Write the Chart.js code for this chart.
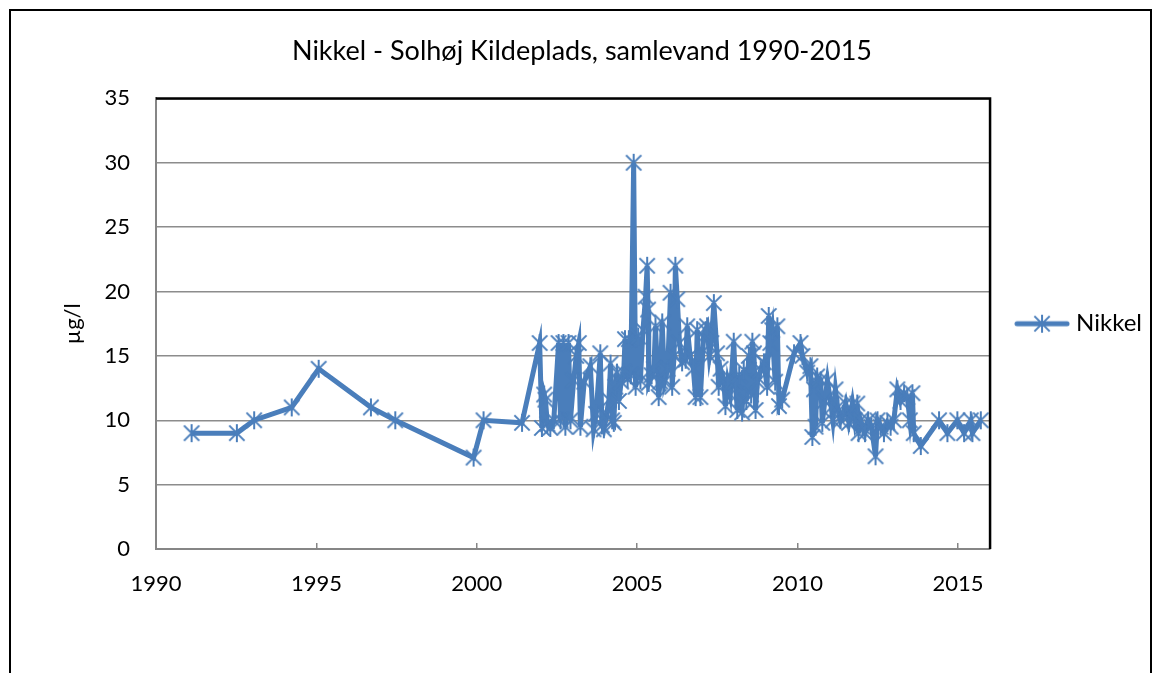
<!DOCTYPE html>
<html>
<head>
<meta charset="utf-8">
<script src="https://cdn.jsdelivr.net/npm/chart.js@4"></script>
<style>
  body { margin: 0; background: #fff; }
  #ramme { position: absolute; left: 9px; top: 9px; width: 1139px; height: 700px; border: 2px solid #000; }
  canvas { position: absolute; left: 0; top: 0; }
</style>
</head>
<body>
<div id="ramme"></div>
<canvas id="graf" width="1156" height="673"></canvas>
<script>
// prøvetagningsdatoer (decimalår) og nikkel i µg/l
const datoer = [
  1991.11, 1992.52, 1993.06, 1994.23, 1995.07, 1996.70, 1997.46, 1999.90, 2000.21, 2001.41,
  2001.96, 2002.03, 2002.10, 2002.14, 2002.20, 2002.29, 2002.40, 2002.55, 2002.61, 2002.70,
  2002.76, 2002.86, 2002.92, 2003.02, 2003.10, 2003.18, 2003.23, 2003.35, 2003.54, 2003.64,
  2003.72, 2003.85, 2003.90, 2003.96, 2004.05, 2004.12, 2004.17, 2004.22, 2004.27, 2004.32,
  2004.37, 2004.43, 2004.50, 2004.58, 2004.62, 2004.70, 2004.74, 2004.80, 2004.89, 2004.95,
  2005.03, 2005.10, 2005.18, 2005.26, 2005.31, 2005.34, 2005.36, 2005.45, 2005.52, 2005.57,
  2005.67, 2005.72, 2005.78, 2005.85, 2005.95, 2006.04, 2006.09, 2006.15, 2006.19, 2006.25,
  2006.32, 2006.40, 2006.51, 2006.56, 2006.65, 2006.75, 2006.82, 2006.87, 2006.97, 2007.07,
  2007.13, 2007.18, 2007.25, 2007.31, 2007.39, 2007.49, 2007.54, 2007.60, 2007.70, 2007.75,
  2007.82, 2007.90, 2008.01, 2008.06, 2008.12, 2008.18, 2008.27, 2008.32, 2008.40, 2008.48,
  2008.55, 2008.59, 2008.64, 2008.69, 2008.75, 2008.85, 2008.95, 2009.05, 2009.10, 2009.15,
  2009.21, 2009.30, 2009.37, 2009.42, 2009.52, 2009.89, 2010.09, 2010.15, 2010.30, 2010.40,
  2010.46, 2010.51, 2010.56, 2010.61, 2010.72, 2010.77, 2010.85, 2010.93, 2011.05, 2011.10,
  2011.18, 2011.25, 2011.34, 2011.42, 2011.50, 2011.60, 2011.66, 2011.71, 2011.78, 2011.86,
  2011.90, 2011.96, 2012.02, 2012.10, 2012.20, 2012.30, 2012.43, 2012.49, 2012.59, 2012.69,
  2012.80, 2012.90, 2013.00, 2013.11, 2013.21, 2013.32, 2013.42, 2013.50, 2013.58, 2013.62,
  2013.84, 2014.41, 2014.67, 2014.98, 2015.19, 2015.40, 2015.45, 2015.71
];
const nikkel = [
  9, 9, 10, 11, 14, 11, 10, 7.1, 10, 9.8,
  16, 9.4, 12, 11.6, 9.7, 9.4, 10, 16, 10, 16,
  9.5, 16, 10, 13.1, 15, 16, 9.5, 13, 14.2, 9.3,
  10.5, 15.2, 9.6, 9.3, 10.5, 11.6, 14.4, 10, 9.8, 12.6,
  13.7, 11.5, 13, 13.7, 16.3, 13.2, 16.3, 13.5, 30, 12.6,
  16.5, 13.1, 17, 19.6, 22, 18.6, 12.9, 13.5, 14, 17.3,
  11.8, 13, 17.6, 13, 14, 19.9, 12.6, 15, 22, 19.4,
  16, 14.5, 14.7, 17.3, 15, 14, 11.8, 17, 11.8, 16.5,
  17, 17.3, 15, 16, 19.1, 15.2, 12.6, 14, 13.1, 11.1,
  13, 12, 16.1, 13, 10.8, 13.5, 10.6, 13.9, 11.5, 15,
  12, 16.1, 15.2, 10.8, 13, 13.9, 14.5, 12.6, 18.1, 16,
  17, 13, 17.3, 11.1, 11.6, 15.2, 16, 15, 13.7, 14.2,
  8.7, 12.4, 9.5, 13.4, 13.1, 9.8, 11.5, 13.1, 11, 10,
  12.4, 11, 10, 10.5, 11.3, 9.8, 10.5, 11.3, 10, 11.3,
  9, 10, 9.5, 9, 10, 9.5, 7.2, 10, 9.5, 9,
  9.8, 9.5, 10, 12.4, 11.5, 12.1, 11.8, 10, 12.1, 9,
  8, 10, 9, 10, 9, 10, 9, 10
];
const aarTicks = [1990, 1995, 2000, 2005, 2010, 2015];
const vaerdiTicks = [0, 5, 10, 15, 20, 25, 30, 35];

const blaa = '#4a7ebb';
const skrift = 'Lato, "Open Sans", sans-serif';

// Excel-agtig stjernemarkør (x + lodret streg)
function lavStjerne(size) {
  const c = document.createElement('canvas');
  c.width = size; c.height = size;
  const g = c.getContext('2d');
  const m = size / 2, r = size / 2 - 1;
  g.strokeStyle = blaa;
  g.lineWidth = 2;
  g.beginPath();
  g.moveTo(m, m - r); g.lineTo(m, m + r);
  g.moveTo(m - r * 0.85, m - r * 0.85); g.lineTo(m + r * 0.85, m + r * 0.85);
  g.moveTo(m + r * 0.85, m - r * 0.85); g.lineTo(m - r * 0.85, m + r * 0.85);
  g.stroke();
  return c;
}
const stjerne = lavStjerne(20);

const legendIkon = document.createElement('canvas');
legendIkon.width = 56; legendIkon.height = 22;
(() => {
  const g = legendIkon.getContext('2d');
  g.strokeStyle = blaa; g.lineWidth = 5; g.lineCap = 'round';
  g.beginPath(); g.moveTo(3, 11); g.lineTo(53, 11); g.stroke();
  g.drawImage(stjerne, 18, 1);
})();

const rammePlugin = {
  id: 'plotramme',
  afterDraw(chart) {
    const { ctx, chartArea: a } = chart;
    ctx.save();
    ctx.strokeStyle = '#000';
    ctx.lineWidth = 2.5;
    ctx.beginPath();
    ctx.moveTo(a.left, a.top); ctx.lineTo(a.right, a.top); ctx.lineTo(a.right, a.bottom);
    ctx.stroke();
    ctx.restore();
  }
};

new Chart(document.getElementById('graf'), {
  type: 'line',
  data: {
    datasets: [{
      label: 'Nikkel',
      data: datoer.map((d, i) => ({ x: d, y: nikkel[i] })),
      borderColor: blaa,
      backgroundColor: blaa,
      borderWidth: 5,
      tension: 0,
      pointStyle: stjerne,
      pointRadius: 9
    }]
  },
  options: {
    responsive: false,
    animation: false,
    layout: { padding: { left: 12, right: 4, top: 0, bottom: 0 } },
    plugins: {
      title: {
        display: true,
        text: 'Nikkel - Solhøj Kildeplads, samlevand 1990-2015',
        color: '#000',
        font: { family: skrift, size: 27, weight: 'normal' },
        padding: { top: 35, bottom: 31 }
      },
      legend: {
        position: 'right',
        fullSize: false,
        labels: {
          usePointStyle: true,
          pointStyle: legendIkon,
          pointStyleWidth: 44,
          padding: 30,
          color: '#000',
          font: { family: skrift, size: 24 }
        }
      },
      tooltip: { enabled: false }
    },
    scales: {
      x: {
        type: 'linear',
        min: 1990,
        max: 2016,
        afterBuildTicks: s => { s.ticks = aarTicks.map(v => ({ value: v })); },
        afterFit: s => { s.height = 124; },
        ticks: {
          color: '#000',
          font: { family: skrift, size: 22 },
          padding: 28,
          callback: v => String(v)
        },
        grid: { drawOnChartArea: false, drawTicks: true, tickLength: -6, color: '#868686', lineWidth: 1.5 },
        border: { color: '#868686', width: 2 }
      },
      y: {
        min: 0,
        max: 35,
        afterBuildTicks: s => { s.ticks = vaerdiTicks.map(v => ({ value: v })); },
        afterFit: s => { s.width = 144; },
        title: {
          display: true,
          text: 'µg/l',
          color: '#000',
          font: { family: skrift, size: 22 },
          padding: { top: 48, bottom: 0 }
        },
        ticks: { color: '#000', font: { family: skrift, size: 22 }, padding: 26 },
        grid: { drawTicks: false, color: '#8c8c8c', lineWidth: 1.5 },
        border: { color: '#868686', width: 2 }
      }
    }
  },
  plugins: [rammePlugin]
});
</script>
</body>
</html>
